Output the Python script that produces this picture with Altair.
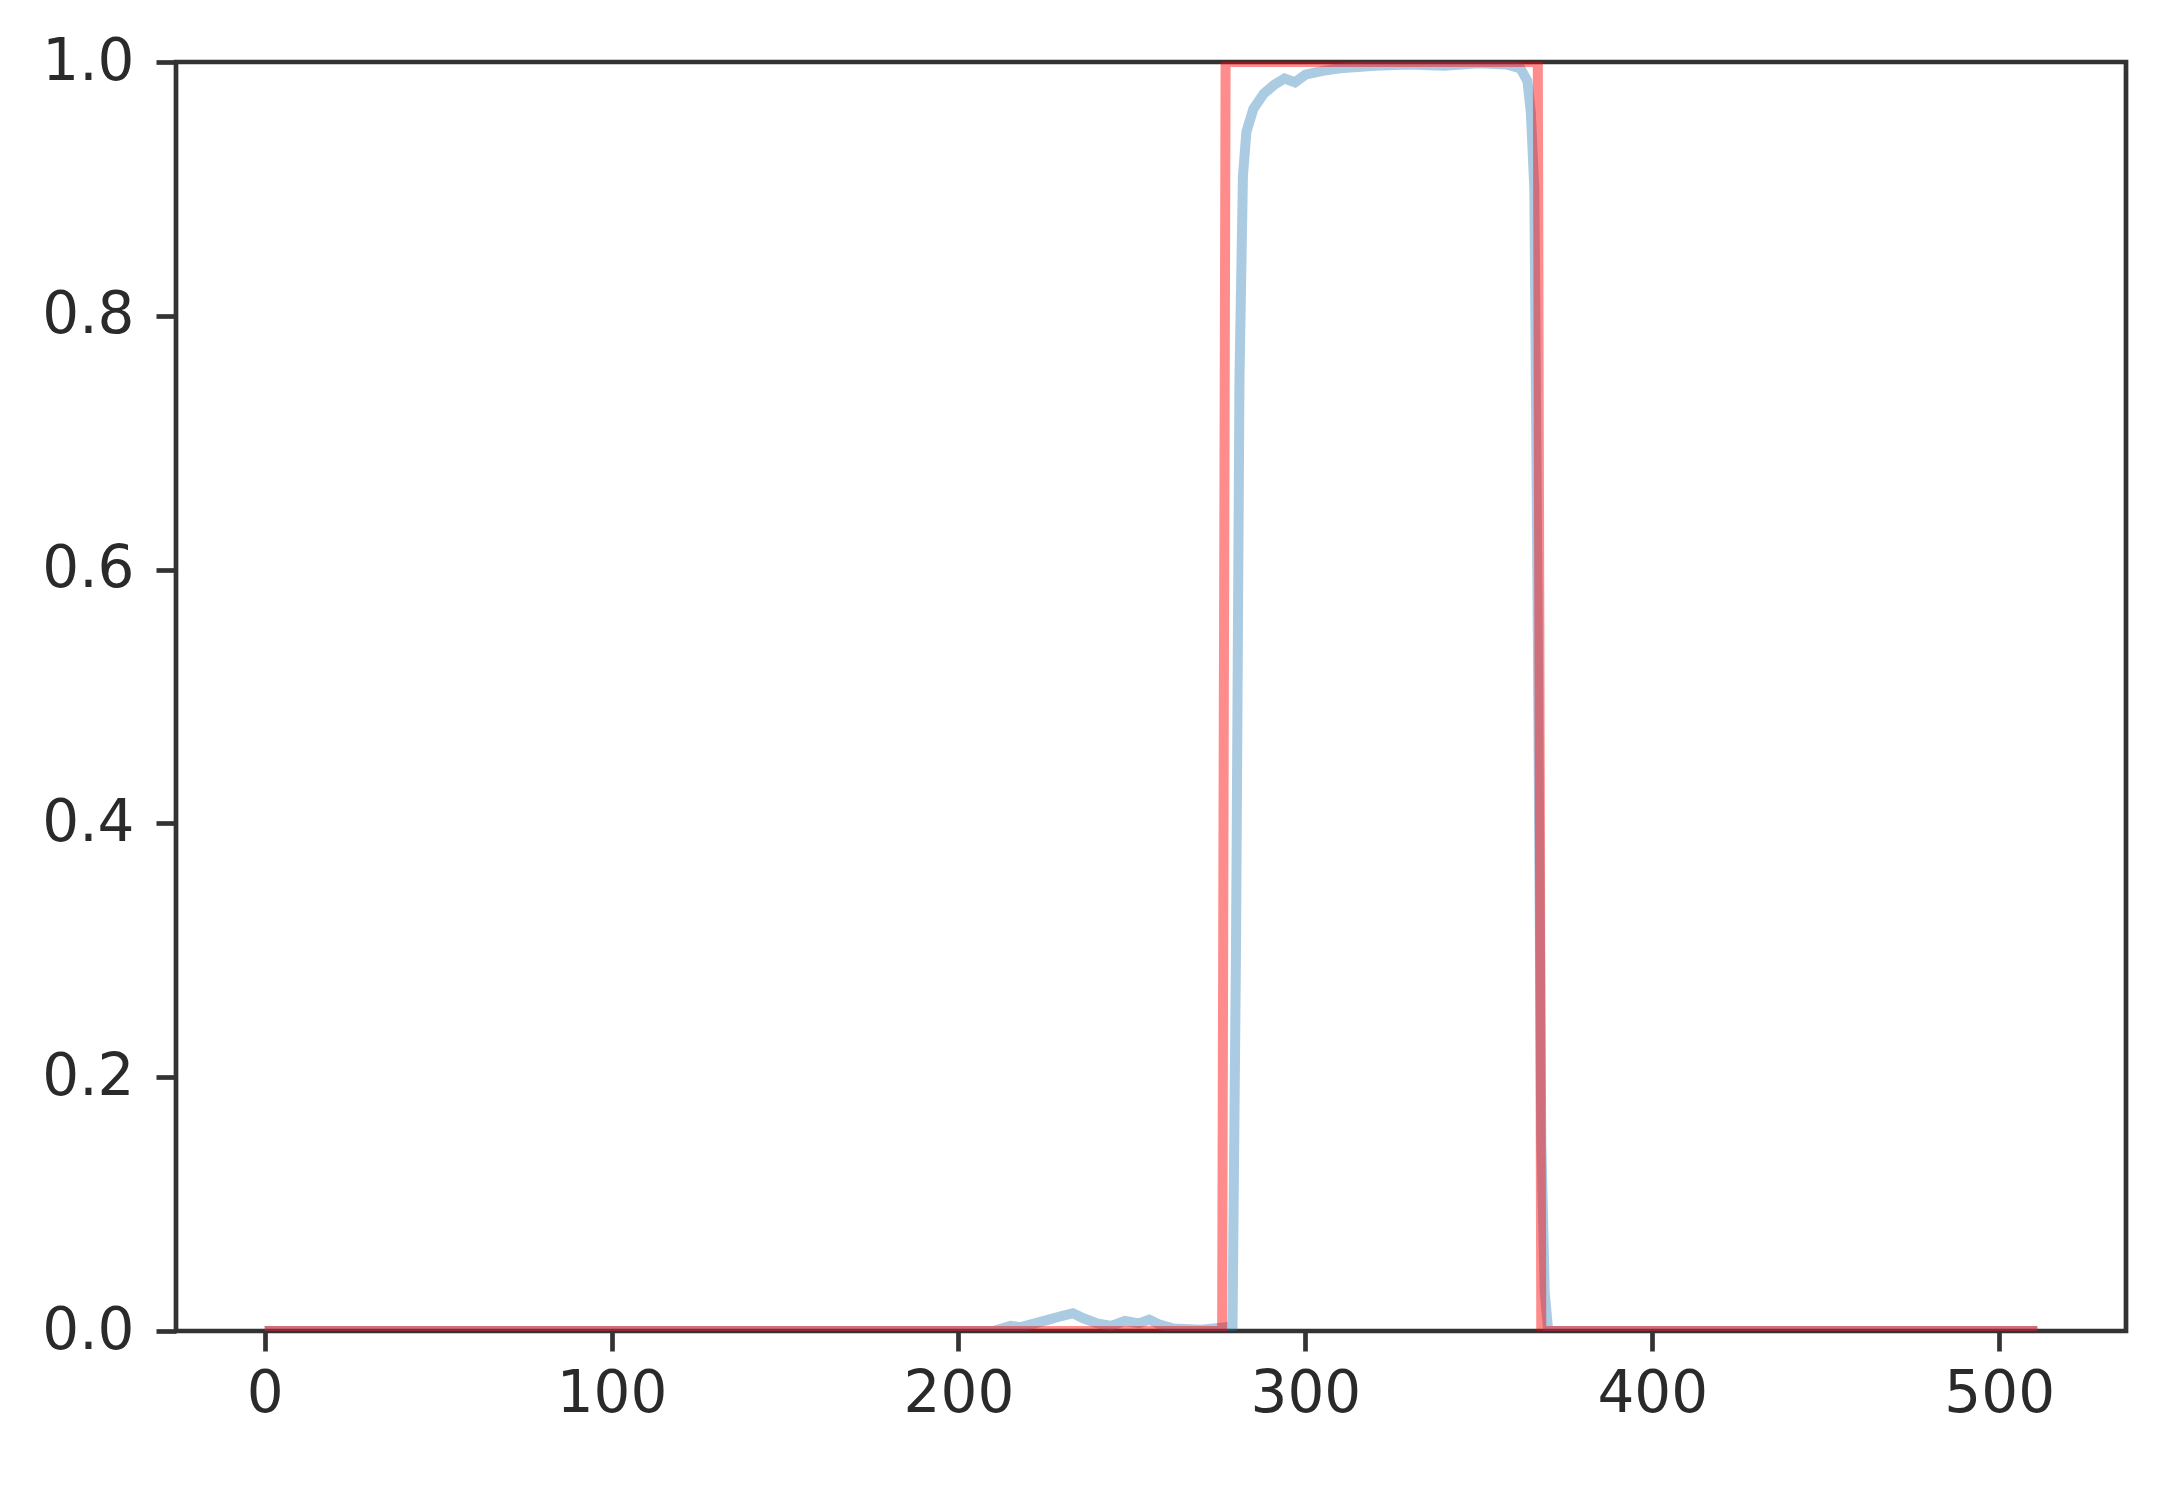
import altair as alt
import pandas as pd

# Ground truth (red step) breakpoints
truth_x = [0, 276, 277, 367, 368, 511]
truth_y = [0.0, 0.0, 1.0, 1.0, 0.0, 0.0]

# Prediction (light blue) sampled points
pred_x = [0, 210, 215, 218, 222, 226, 230, 233, 236, 240, 244, 248, 252, 255, 258, 262, 270, 277, 279,
          280, 281, 282, 283, 285, 288, 291, 294, 297, 300, 305, 310, 320, 330, 340, 350, 358,
          362, 364, 365, 366, 367, 368, 369, 370, 511]
pred_y = [0.0, 0.0, 0.004, 0.003, 0.006, 0.009, 0.012, 0.014, 0.010, 0.006, 0.004, 0.008, 0.006, 0.009, 0.005, 0.002, 0.001, 0.003, 0.004,
          0.30, 0.75, 0.91, 0.945, 0.963, 0.975, 0.982, 0.987, 0.984, 0.99, 0.993, 0.995, 0.997, 0.998, 0.997, 0.999, 0.998,
          0.995, 0.985, 0.96, 0.9, 0.55, 0.15, 0.03, 0.0, 0.0]

truth = pd.DataFrame({"x": truth_x, "y": truth_y})
pred = pd.DataFrame({"x": pred_x, "y": pred_y})

xscale = alt.Scale(domain=[-25.55, 536.55], nice=False, zero=False)
yscale = alt.Scale(domain=[0, 1], nice=False)

xaxis = alt.Axis(values=[0, 100, 200, 300, 400, 500], title=None, grid=False, domain=False,
                 tickSize=20, tickWidth=4.7, tickColor="#333", labelFontSize=58,
                 labelFont="DejaVu Sans", labelColor="#2a2a2a", labelPadding=14, zindex=1)
yaxis = alt.Axis(values=[0, 0.2, 0.4, 0.6, 0.8, 1.0], format=".1f", title=None, grid=False,
                 domain=False, tickSize=20, tickWidth=4.7, tickColor="#333", labelFontSize=58,
                 labelFont="DejaVu Sans", labelColor="#2a2a2a", labelPadding=22, zindex=1)

blue = alt.Chart(pred).mark_line(color="#1f77b4", opacity=0.38, strokeWidth=10, clip=True).encode(
    x=alt.X("x:Q", scale=xscale, axis=xaxis),
    y=alt.Y("y:Q", scale=yscale, axis=yaxis),
    order="x:Q",
)
red = alt.Chart(truth).mark_line(color="#ff0000", opacity=0.45, strokeWidth=10, clip=True).encode(
    x=alt.X("x:Q", scale=xscale, axis=xaxis),
    y=alt.Y("y:Q", scale=yscale, axis=yaxis),
    order="x:Q",
)

chart = alt.layer(blue, red).properties(
    width=1950, height=1269,
    autosize=alt.AutoSizeParams(type="none"),
    padding={"left": 168, "top": 54, "right": 30, "bottom": 140},
).configure(
    background="white",
    view=alt.ViewConfig(stroke="#333", strokeWidth=4.7),
)

chart.save("out.html", embed_options={"renderer": "svg", "actions": False})
